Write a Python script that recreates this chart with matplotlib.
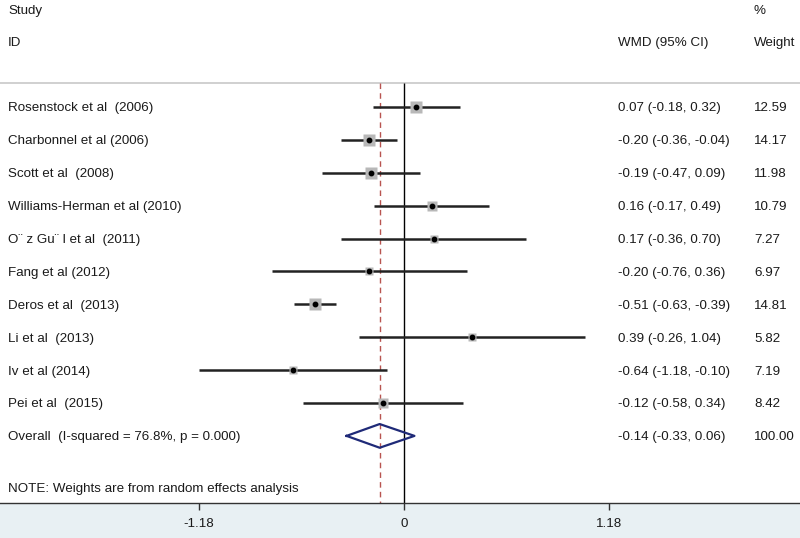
import numpy as np
import matplotlib
matplotlib.use("Agg")
import matplotlib.pyplot as plt

plt.rcParams['font.family'] = ['Liberation Sans', 'DejaVu Sans']

# study-level data
studies = ["Rosenstock et al  (2006)", "Charbonnel et al (2006)", "Scott et al  (2008)",
           "Williams-Herman et al (2010)", "O\u00a8 z Gu\u00a8 l et al  (2011)", "Fang et al (2012)",
           "Deros et al  (2013)", "Li et al  (2013)", "Iv et al (2014)", "Pei et al  (2015)"]
wmd = [0.07, -0.20, -0.19, 0.16, 0.17, -0.20, -0.51, 0.39, -0.64, -0.12]
lower = [-0.18, -0.36, -0.47, -0.17, -0.36, -0.76, -0.63, -0.26, -1.18, -0.58]
upper = [0.32, -0.04, 0.09, 0.49, 0.70, 0.36, -0.39, 1.04, -0.10, 0.34]
weights = [12.59, 14.17, 11.98, 10.79, 7.27, 6.97, 14.81, 5.82, 7.19, 8.42]

overall_label = "Overall  (I-squared = 76.8%, p = 0.000)"
overall_wmd = -0.14
overall_lower = -0.33
overall_upper = 0.06
overall_weight = 100.00

tick_values = [-1.18, 0, 1.18]
tick_labels = ["-1.18", "0", "1.18"]

fig = plt.figure(figsize=(8.0, 5.38), dpi=100)
fig.patch.set_facecolor('#e8f0f3')
ax = fig.add_axes([0, 35 / 538, 1, 503 / 538])
ax.set_facecolor('white')

n = len(studies)
rows = np.arange(n)
overall_row = n
sep_row = -0.73
bottom_row = 12.04

ax.set_xlim(-404 / 174, 396 / 174)
ax.set_ylim(bottom_row, -3.25)

# reference lines
ax.vlines(0, sep_row, bottom_row, color='black', lw=1.0, zorder=2)
ax.vlines(overall_wmd, sep_row, bottom_row, color='#b85450', lw=1.0,
          linestyles=(0, (4, 3)), zorder=2)
ax.axhline(sep_row, color='#c8c8c8', lw=1.2, zorder=1)

# study estimates
for i in rows:
    ax.plot([lower[i], upper[i]], [i, i], color='#222222', lw=1.8, zorder=3,
            solid_capstyle='butt')
    ax.plot(wmd[i], i, marker='s', ms=2.4 * np.sqrt(weights[i]),
            color='#b8b8b8', mec='none', zorder=4)
    ax.plot(wmd[i], i, marker='o', ms=3.2, color='black', zorder=5)

# overall diamond
dx = [overall_lower, overall_wmd, overall_upper, overall_wmd, overall_lower]
dy = [overall_row, overall_row - 0.36, overall_row, overall_row + 0.36, overall_row]
ax.plot(dx, dy, color='#1f2a78', lw=1.6, zorder=4)

# text columns (x in axes fraction, y in row units)
tx = ax.get_yaxis_transform()
fs = 9.6
tc = '#1a1a1a'
va = 'center_baseline'
name_x = 8 / 800
ci_x = 618 / 800
w_x = 754 / 800
ax.text(name_x, -2.95, "Study", transform=tx, fontsize=fs, va=va, color=tc)
ax.text(name_x, -1.98, "ID", transform=tx, fontsize=fs, va=va, color=tc)
ax.text(ci_x, -1.98, "WMD (95% CI)", transform=tx, fontsize=fs, va=va, color=tc)
ax.text(w_x, -2.95, "%", transform=tx, fontsize=fs, va=va, color=tc)
ax.text(w_x, -1.98, "Weight", transform=tx, fontsize=fs, va=va, color=tc)

for i in rows:
    ax.text(name_x, i, studies[i], transform=tx, fontsize=fs, va=va, color=tc)
    ax.text(ci_x, i, f"{wmd[i]:.2f} ({lower[i]:.2f}, {upper[i]:.2f})", transform=tx,
            fontsize=fs, va=va, color=tc)
    ax.text(w_x, i, f"{weights[i]:.2f}", transform=tx, fontsize=fs, va=va, color=tc)

ax.text(name_x, overall_row, overall_label, transform=tx, fontsize=fs, va=va, color=tc)
ax.text(ci_x, overall_row, f"{overall_wmd:.2f} ({overall_lower:.2f}, {overall_upper:.2f})",
        transform=tx, fontsize=fs, va=va, color=tc)
ax.text(w_x, overall_row, f"{overall_weight:.2f}", transform=tx, fontsize=fs,
        va=va, color=tc)
ax.text(name_x, 11.58, "NOTE: Weights are from random effects analysis", transform=tx,
        fontsize=fs, va=va, color=tc)

# axis
for s in ['top', 'left', 'right']:
    ax.spines[s].set_visible(False)
ax.spines['bottom'].set_color('#333333')
ax.spines['bottom'].set_linewidth(1.0)
ax.set_yticks([])
ax.set_xticks(tick_values)
ax.set_xticklabels(tick_labels, fontsize=fs, color=tc)
ax.tick_params(axis='x', length=5, width=1, color='#333333', pad=6)

fig.savefig('out.png', dpi=100)
